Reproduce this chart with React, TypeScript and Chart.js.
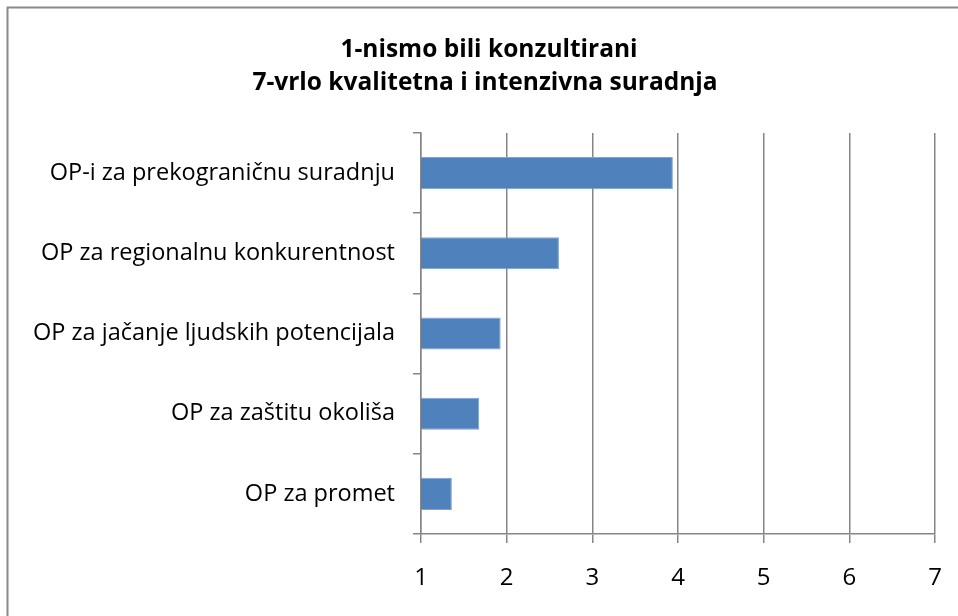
import React, { useEffect, useRef } from "react";
import { Chart, registerables } from "chart.js";

Chart.register(...registerables);

const categories = [
  "OP-i za prekograničnu suradnju",
  "OP za regionalnu konkurentnost",
  "OP za jačanje ljudskih potencijala",
  "OP za zaštitu okoliša",
  "OP za promet",
];
const values = [3.94, 2.61, 1.93, 1.68, 1.36];
const titleLines = ["1-nismo bili konzultirani", "7-vrlo kvalitetna i intenzivna suradnja"];
const xMin = 1;
const xMax = 7;

const FONT = "'Open Sans', 'Noto Sans', sans-serif";
const GRID = "#868686";

const framePlugin = {
  id: "frame",
  beforeDraw(chart: any) {
    const ctx = chart.ctx;
    ctx.save();
    ctx.fillStyle = "#ffffff";
    ctx.fillRect(0, 0, chart.width, chart.height);
    ctx.strokeStyle = "#8a8a8a";
    ctx.lineWidth = 2;
    ctx.strokeRect(7.5, 7.5, chart.width + 20, chart.height + 20);
    ctx.restore();
  },
  afterDraw(chart: any) {
    const ctx = chart.ctx;
    ctx.save();
    ctx.fillStyle = "#000000";
    ctx.font = `bold 24.5px ${FONT}`;
    ctx.textAlign = "center";
    ctx.textBaseline = "alphabetic";
    ctx.fillText(titleLines[0], 489, 57);
    ctx.fillText(titleLines[1], 485, 90);
    ctx.restore();
  },
};

export default function App() {
  const ref = useRef<HTMLCanvasElement | null>(null);
  useEffect(() => {
    if (!ref.current) return;
    const chart = new Chart(ref.current, {
      type: "bar",
      data: {
        labels: categories,
        datasets: [
          {
            data: values,
            backgroundColor: "#4F81BD",
            borderColor: "#7EA3D2",
            borderWidth: 1,
            borderSkipped: "left",
            barPercentage: 0.4,
            categoryPercentage: 1,
          },
        ],
      },
      options: {
        indexAxis: "y",
        responsive: false,
        animation: false,
        layout: { padding: { top: 133, right: 23, bottom: 0, left: 0 } },
        plugins: {
          legend: { display: false },
          title: { display: false },
          tooltip: { enabled: false },
        },
        scales: {
          x: {
            min: xMin,
            max: xMax,
            ticks: {
              stepSize: 1,
              color: "#000000",
              font: { family: FONT, size: 24 },
              padding: 21,
            },
            grid: {
              color: GRID,
              lineWidth: 1.5,
              tickLength: 9,
              drawTicks: true,
            },
            border: { display: true, color: GRID, width: 1.5 },
            afterFit(scale: any) {
              scale.height = 82;
              scale.paddingLeft = 0;
              scale.paddingRight = 0;
            },
          },
          y: {
            ticks: {
              color: "#000000",
              font: { family: FONT, size: 23.5 },
              padding: 18,
            },
            grid: {
              drawOnChartArea: false,
              drawTicks: true,
              tickLength: 8,
              color: GRID,
              lineWidth: 1.5,
              offset: true,
            },
            border: { display: true, color: GRID, width: 1.5 },
            afterFit(scale: any) {
              scale.width = 421;
              scale.paddingTop = 0;
              scale.paddingBottom = 0;
            },
          },
        },
      },
      plugins: [framePlugin],
    });
    return () => chart.destroy();
  }, []);
  return (
    <div style={{ position: "absolute", left: 0, top: 0, width: 958, height: 616 }}>
      <canvas ref={ref} width={958} height={616} style={{ display: "block" }} />
    </div>
  );
}
